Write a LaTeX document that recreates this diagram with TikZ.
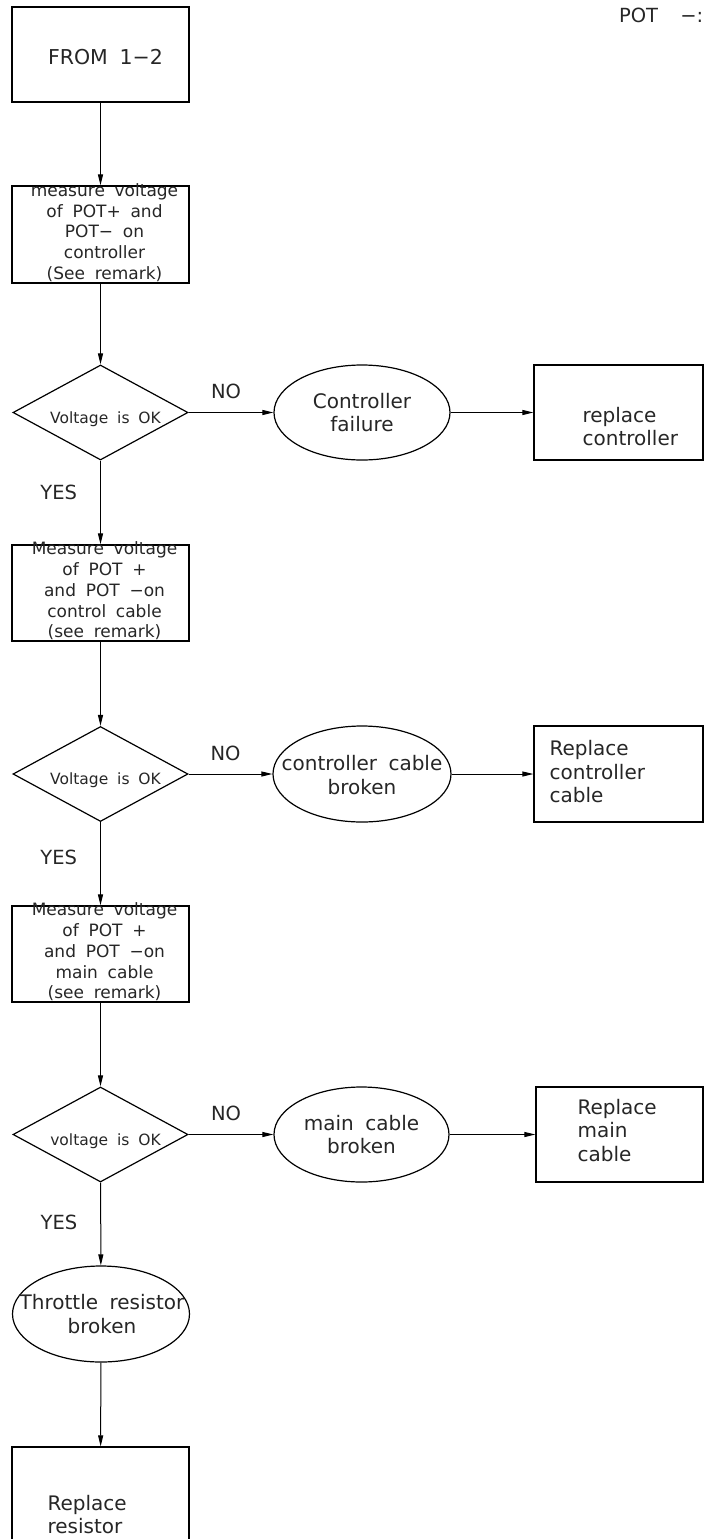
\documentclass[tikz,border=0pt]{standalone}
\usepackage{fontspec}
\setmainfont{DejaVu Sans}[WordSpace=1.8]
\usetikzlibrary{shapes.geometric,arrows.meta,positioning}

\begin{document}
\begin{tikzpicture}[x=1pt, y=-1pt, >={Triangle[length=11pt,width=5pt]},
    every node/.style={inner sep=0pt, text=black!85},
    stepbox/.style={draw, line width=1.2pt, minimum width=177pt, minimum height=96pt},
    sidebox/.style={draw, line width=1.2pt, minimum width=169pt, minimum height=95pt},
    decision/.style={draw, diamond, line width=1.2pt, minimum width=175pt, minimum height=95pt},
    fault/.style={draw, ellipse, line width=1.2pt, minimum width=176pt, minimum height=95pt},
    boxtext/.style={font=\fontsize{17}{20.75}\selectfont, align=center},
    dectext/.style={font=\fontsize{15.5}{18}\selectfont, xshift=5pt, yshift=-6.5pt},
    bigtext/.style={font=\fontsize{20}{23.5}\selectfont, align=center},
    lefttext/.style={font=\fontsize{20}{23.5}\selectfont, align=left, anchor=west},
    answer/.style={font=\fontsize{19.5}{20}\selectfont},
    flow/.style={->, line width=1pt}]

    \useasboundingbox (0,0) rectangle (704,1539);

    % Note in the corner, cut by the page edge
    \node[answer, anchor=east] (potnote) at (703.5,15.5) {POT\ \ −:};

    % Main column
    \node[stepbox, minimum height=95pt,
        label={[bigtext, font=\fontsize{20.5}{24}\selectfont, xshift=5pt, yshift=-2.5pt]center:{FROM 1−2}}] (from12) at (100.5,54.5) {};
    \node[stepbox, minimum height=97pt,
        label={[boxtext, xshift=4pt, yshift=2pt]center:{measure voltage\\of POT+ and\\POT− on\\controller\\(See remark)}}] (meas1) at (100.5,234.5) {};
    \node[decision, label={[dectext]center:{Voltage is OK}}] (dec1) at (100.5,412.5) {};
    \node[stepbox, label={[boxtext, xshift=4pt, yshift=2pt]center:{Measure voltage\\of POT +\\and POT −on\\control cable\\(see remark)}}] (meas2) at (100.5,593) {};
    \node[decision, label={[dectext]center:{Voltage is OK}}] (dec2) at (100.5,774) {};
    \node[stepbox, label={[boxtext, xshift=4pt, yshift=2pt]center:{Measure voltage\\of POT +\\and POT −on\\main cable\\(see remark)}}] (meas3) at (100.5,954) {};
    \node[decision, label={[dectext]center:{voltage is OK}}] (dec3) at (100.5,1134.5) {};
    \node[fault, minimum width=177pt, minimum height=96pt,
        label={[bigtext, xshift=1pt]center:{Throttle resistor\\broken}}] (throttle) at (101,1314) {};
    \node[stepbox, minimum height=103pt,
        label={[lefttext, xshift=36pt, yshift=-16pt]west:{Replace\\resistor}}] (repres) at (100.5,1498.5) {};

    % Fault branches
    \node[fault, label={[bigtext]center:{Controller\\failure}}] (fail1) at (362,412.5) {};
    \node[fault, minimum width=178pt, minimum height=96pt,
        label={[bigtext, yshift=-1pt]center:{controller cable\\broken}}] (fail2) at (362,774) {};
    \node[fault, minimum width=175pt, label={[bigtext]center:{main cable\\broken}}] (fail3) at (361.5,1134.5) {};

    % Repair boxes on the right
    \node[sidebox, label={[lefttext, xshift=49pt, yshift=-14pt]west:{replace\\controller}}] (rep1) at (618.5,412.5) {};
    \node[sidebox, minimum height=96pt,
        label={[lefttext, xshift=16pt, yshift=2pt]west:{Replace\\controller\\cable}}] (rep2) at (618.5,774) {};
    \node[sidebox, minimum width=167pt,
        label={[lefttext, xshift=42pt, yshift=4pt]west:{Replace\\main\\cable}}] (rep3) at (619.5,1134.5) {};

    % Connectors down the column
    \draw[flow] (from12) -- (meas1);
    \draw[flow] (meas1) -- (dec1);
    \draw[flow] (dec1) -- node[answer, pos=0.38, left=23pt] {YES} (meas2);
    \draw[flow] (meas2) -- (dec2);
    \draw[flow] (dec2) -- node[answer, pos=0.42, left=23pt] {YES} (meas3);
    \draw[flow] (meas3) -- (dec3);
    \draw[flow] (dec3) -- node[answer, pos=0.48, left=23pt] {YES} (throttle);
    \draw[flow] (throttle) -- (repres);

    % Connectors to the right
    \draw[flow] (dec1) -- node[answer, above=13pt, xshift=-5pt] {NO} (fail1);
    \draw[flow] (fail1) -- (rep1);
    \draw[flow] (dec2) -- node[answer, above=13pt, xshift=-5pt] {NO} (fail2);
    \draw[flow] (fail2) -- (rep2);
    \draw[flow] (dec3) -- node[answer, above=13pt, xshift=-5pt] {NO} (fail3);
    \draw[flow] (fail3) -- (rep3);
\end{tikzpicture}
\end{document}
